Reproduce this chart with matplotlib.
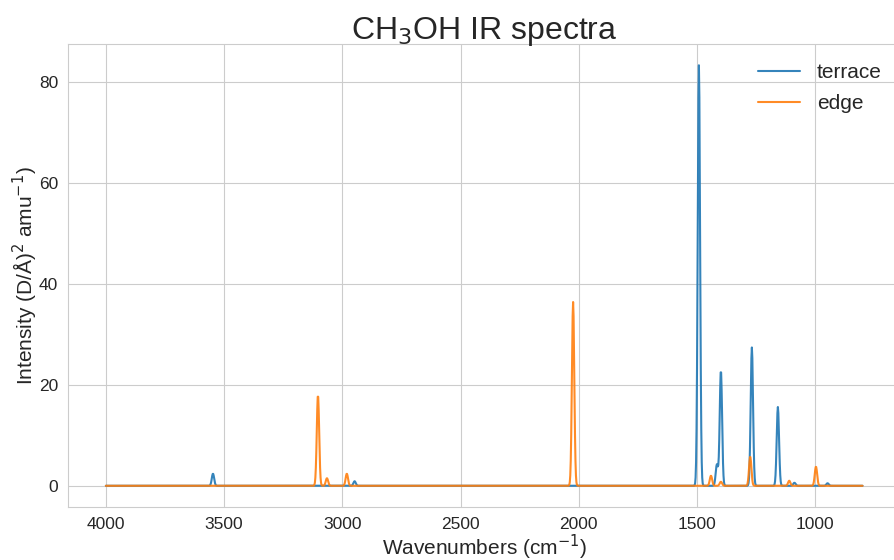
import matplotlib
matplotlib.use("Agg")
import matplotlib.pyplot as plt
import numpy as np
import seaborn as sns

sns.set_style("whitegrid")
plt.rcParams['font.family'] = ['Liberation Sans', 'DejaVu Sans']

# normal-mode frequencies (cm^-1) and IR intensities ((D/A)^2 amu^-1)
terrace_freq = [3547, 2948, 1492, 1416, 1399, 1268, 1158, 1088, 948]
terrace_int = [2.4, 0.9, 83.3, 4.2, 22.9, 27.4, 15.6, 0.6, 0.5]

edge_freq = [3103, 3065, 2981, 2024, 1441, 1399, 1275, 1110, 997]
edge_int = [18.0, 1.5, 2.4, 36.4, 2.0, 0.8, 5.8, 1.0, 3.8]

sigma = 5.0  # gaussian broadening, cm^-1
wn = np.arange(4000, 799, -2.0)


def broaden(freqs, ints):
    spec = np.zeros_like(wn)
    for f, a in zip(freqs, ints):
        spec += a * np.exp(-0.5 * ((wn - f) / sigma) ** 2)
    return spec


fig, ax = plt.subplots(figsize=(8.95, 5.6), dpi=100)
ax.plot(wn, broaden(terrace_freq, terrace_int), label="terrace", color="#1f77b4", lw=1.5, alpha=0.9)
ax.plot(wn, broaden(edge_freq, edge_int), label="edge", color="#ff7f0e", lw=1.5, alpha=0.9)
ax.invert_xaxis()
ax.set_title(r"CH$_3$OH IR spectra", fontsize=23, pad=4)
ax.set_xlabel(r"Wavenumbers (cm$^{-1}$)", fontsize=15, labelpad=1)
ax.set_ylabel(r"Intensity (D/Å)$^2$ amu$^{-1}$)", fontsize=15, labelpad=-1)
ax.tick_params(labelsize=12.5)
ax.legend(fontsize=15, frameon=False, loc="upper right", labelspacing=0.6)
fig.subplots_adjust(left=0.076, right=1.006, top=0.921, bottom=0.095)
fig.savefig("out.png")
